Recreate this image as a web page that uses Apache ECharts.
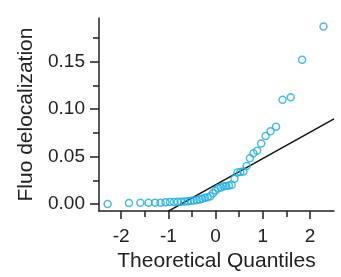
<!DOCTYPE html>
<html>
<head>
<meta charset="utf-8">
<script src="https://cdn.jsdelivr.net/npm/echarts@6/dist/echarts.min.js"></script>
<style>
    html, body { margin: 0; padding: 0; background: #fff; }
    #qq { width: 341px; height: 277px; }
</style>
</head>
<body>
<div id="qq"></div>
<script>
// theoretical quantiles (45 samples) and measured values
var quantiles = [-2.287, -1.834, -1.593, -1.420, -1.282, -1.165, -1.061, -0.967, -0.882, -0.802,
    -0.728, -0.658, -0.590, -0.524, -0.462, -0.400, -0.341, -0.282, -0.225, -0.168,
    -0.112, -0.056, 0.000, 0.056, 0.112, 0.168, 0.225, 0.282, 0.341, 0.400,
    0.462, 0.524, 0.590, 0.658, 0.728, 0.802, 0.882, 0.967, 1.061, 1.165,
    1.282, 1.420, 1.593, 1.834, 2.287];
var fluo = [0.0000, 0.0010, 0.0014, 0.0014, 0.0014, 0.0014, 0.0017, 0.0020, 0.0020, 0.0024,
    0.0024, 0.0027, 0.0030, 0.0034, 0.0038, 0.0041, 0.0048, 0.0055, 0.0065, 0.0072,
    0.0082, 0.0113, 0.0141, 0.0165, 0.0175, 0.0187, 0.0190, 0.0195, 0.0199, 0.0267,
    0.0333, 0.0338, 0.0342, 0.0400, 0.0483, 0.0534, 0.0562, 0.0637, 0.0716, 0.0767,
    0.0815, 0.1099, 0.1126, 0.1520, 0.1870];
// reference line end points
var refX = [-1.0, 2.51];
var refY = [-0.0075, 0.0897];

var xMajor = [-2, -1, 0, 1, 2];
var xMinor = [-1.5, -0.5, 0.5, 1.5];
var yMajor = [0, 0.05, 0.10, 0.15];
var yMinor = [0.025, 0.075, 0.125, 0.175];

var chart = echarts.init(document.getElementById('qq'));
var font = 'Liberation Sans, Arial, sans-serif';
var ink = '#222';

var points = [];
for (var i = 0; i < quantiles.length; i++) {
    points.push([quantiles[i], fluo[i]]);
}
var refLine = [];
for (var j = 0; j < refX.length; j++) {
    refLine.push([refX[j], refY[j]]);
}

var option = {
    animation: false,
    grid: {
        left: 99,
        right: 7,
        top: 18,
        bottom: 61
    },
    xAxis: [{
        type: 'value',
        min: -2.47,
        max: 2.51,
        name: 'Theoretical Quantiles',
        nameLocation: 'middle',
        nameGap: 35,
        nameTextStyle: { color: ink, fontSize: 21, fontFamily: font },
        axisLine: { show: true, onZero: false, lineStyle: { color: ink, width: 1.5 } },
        axisTick: { show: true, customValues: xMajor, length: 8, lineStyle: { color: ink, width: 1.5 } },
        axisLabel: {
            customValues: xMajor,
            margin: 16,
            color: ink,
            fontSize: 19,
            fontFamily: font,
            formatter: function (v) { return String(v); }
        },
        splitLine: { show: false }
    }, {
        // minor ticks only
        type: 'value',
        position: 'bottom',
        min: -2.47,
        max: 2.51,
        axisLine: { show: false, onZero: false },
        axisTick: { show: true, customValues: xMinor, length: 6, lineStyle: { color: ink, width: 1.5 } },
        axisLabel: { show: false },
        splitLine: { show: false }
    }],
    yAxis: [{
        type: 'value',
        min: -0.0075,
        max: 0.196,
        name: 'Fluo delocalization',
        nameLocation: 'middle',
        nameGap: 62,
        nameTextStyle: { color: ink, fontSize: 21, fontFamily: font },
        axisLine: { show: true, onZero: false, lineStyle: { color: ink, width: 1.5 } },
        axisTick: { show: true, customValues: yMajor, length: 9, lineStyle: { color: ink, width: 1.5 } },
        axisLabel: {
            customValues: yMajor,
            margin: 14,
            color: ink,
            fontSize: 19,
            fontFamily: font,
            formatter: function (v) { return v.toFixed(2); }
        },
        splitLine: { show: false }
    }, {
        // minor ticks only
        type: 'value',
        position: 'left',
        min: -0.0075,
        max: 0.196,
        axisLine: { show: false, onZero: false },
        axisTick: { show: true, customValues: yMinor, length: 6, lineStyle: { color: ink, width: 1.5 } },
        axisLabel: { show: false },
        splitLine: { show: false }
    }],
    series: [
        {
            type: 'line',
            data: refLine,
            symbol: 'none',
            clip: true,
            lineStyle: { color: '#111', width: 1.5 },
            z: 1
        },
        {
            type: 'scatter',
            data: points,
            symbol: 'circle',
            symbolSize: 7,
            itemStyle: {
                color: 'rgba(0,0,0,0)',
                borderColor: '#1cace4',
                borderWidth: 1.5
            },
            z: 2
        }
    ]
};
chart.setOption(option);
</script>
</body>
</html>
